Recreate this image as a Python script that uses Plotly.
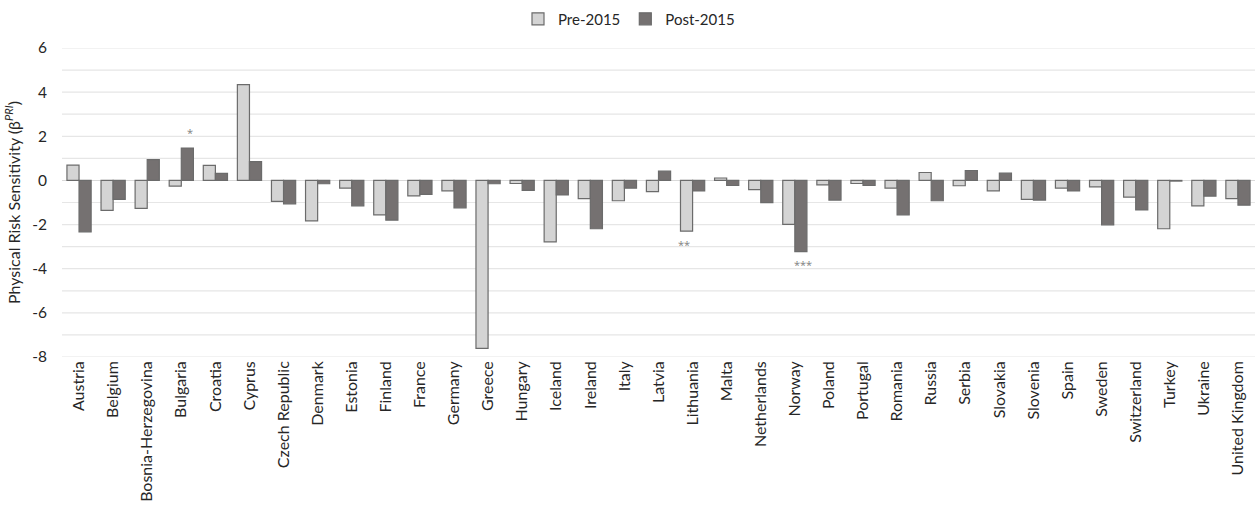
import plotly.graph_objects as go

countries = ["Austria", "Belgium", "Bosnia-Herzegovina", "Bulgaria", "Croatia", "Cyprus",
             "Czech Republic", "Denmark", "Estonia", "Finland", "France", "Germany", "Greece",
             "Hungary", "Iceland", "Ireland", "Italy", "Latvia", "Lithuania", "Malta",
             "Netherlands", "Norway", "Poland", "Portugal", "Romania", "Russia", "Serbia",
             "Slovakia", "Slovenia", "Spain", "Sweden", "Switzerland", "Turkey", "Ukraine",
             "United Kingdom"]

pre_2015 = [0.69, -1.36, -1.27, -0.26, 0.68, 4.34, -0.95, -1.83, -0.35, -1.56, -0.70,
            -0.47, -7.61, -0.14, -2.78, -0.82, -0.92, -0.51, -2.30, 0.11, -0.42, -1.99,
            -0.20, -0.14, -0.35, 0.36, -0.24, -0.47, -0.86, -0.35, -0.29, -0.76, -2.19,
            -1.15, -0.82]

post_2015 = [-2.33, -0.86, 0.94, 1.47, 0.32, 0.85, -1.06, -0.15, -1.15, -1.80, -0.63,
             -1.24, -0.15, -0.45, -0.66, -2.19, -0.35, 0.42, -0.48, -0.23, -1.01, -3.23,
             -0.89, -0.23, -1.56, -0.92, 0.45, 0.33, -0.89, -0.48, -2.01, -1.34, -0.03,
             -0.71, -1.12]

# significance markers: (country, series, stars)
significance = [("Bulgaria", "post", "*"), ("Lithuania", "pre", "**"), ("Norway", "post", "***")]

y_ticks = [-8, -6, -4, -2, 0, 2, 4, 6]

FONT = "Lato"
PRE_FILL = "#d4d4d4"
POST_FILL = "#757171"
EDGE = "#6b6b6b"

fig = go.Figure()
fig.add_trace(go.Bar(x=countries, y=pre_2015, name="Pre-2015",
                     marker=dict(color=PRE_FILL, line=dict(color=EDGE, width=1.2))))
fig.add_trace(go.Bar(x=countries, y=post_2015, name="Post-2015",
                     marker=dict(color=POST_FILL, line=dict(color=EDGE, width=1.2))))

for country, series, stars in significance:
    i = countries.index(country)
    val = pre_2015[i] if series == "pre" else post_2015[i]
    fig.add_annotation(
        x=country, y=val, xshift=-8.5 if series == "pre" else 8.5,
        text=stars, showarrow=False,
        yshift=-13 if val < 0 else 15,
        font=dict(family="Open Sans", size=11, color="#7f7f7f"),
    )

fig.update_layout(
    width=1258, height=509,
    margin=dict(l=62, r=3, t=48, b=152),
    paper_bgcolor="white", plot_bgcolor="white",
    barmode="group", bargap=0.29, bargroupgap=0.0,
    font=dict(family=FONT, color="#404040"),
    legend=dict(orientation="h", xref="container", x=0.5, xanchor="center",
                yref="container", y=0.995, yanchor="top",
                font=dict(family=FONT, size=15, color="#262626"),
                itemwidth=30, traceorder="normal"),
    showlegend=True,
)

fig.update_xaxes(
    tickangle=-90, tickfont=dict(family=FONT, size=16, color="#262626"),
    showgrid=False, zeroline=False, showline=False, ticks="",
)
fig.update_yaxes(
    range=[-8, 6], tickvals=y_ticks, ticktext=[str(v) for v in y_ticks],
    tickfont=dict(family=FONT, size=15.5, color="#262626"),
    showgrid=False, zeroline=True, zerolinecolor="#d9d9d9", zerolinewidth=1.2,
    ticks="", ticklabelstandoff=14,
    title=dict(text="Physical Risk Sensitivity (β<sup><i>PRI</i></sup>)",
               font=dict(family=FONT, size=16, color="#262626"), standoff=7),
)

# horizontal gridlines at every unit, drawn beneath the bars
for v in range(-8, 7):
    if v == 0:
        continue
    fig.add_shape(type="line", xref="paper", yref="y", x0=0, x1=1, y0=v, y1=v,
                  line=dict(color="#e6e6e6", width=1.2), layer="below")

fig.write_html("out.html")
